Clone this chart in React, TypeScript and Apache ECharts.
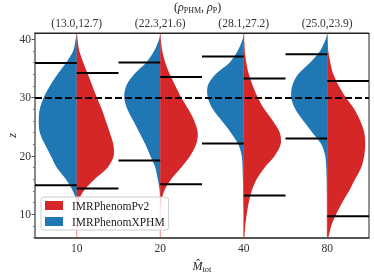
import React, { useEffect, useRef } from 'react';
import * as echarts from 'echarts';

const categories = ['10', '20', '40', '80'];
const snrPairs = ['(13.0,12.7)', '(22.3,21.6)', '(28.1,27.2)', '(25.0,23.9)'];
const zGrid = [41, 40, 38, 36, 34, 32, 30, 28, 26, 24, 22, 20, 18, 16, 14, 12, 10, 8, 6];

// half-widths (fraction of category band) of each violin half at zGrid
const xphm10 = [0, 0.012, 0.042, 0.126, 0.228, 0.32, 0.395, 0.443, 0.455, 0.443, 0.383, 0.311, 0.24, 0.132, 0.048, 0, 0, 0, 0];
const xphm20 = [0, 0.012, 0.072, 0.168, 0.311, 0.407, 0.431, 0.395, 0.323, 0.251, 0.18, 0.12, 0.06, 0.03, 0.006, 0, 0, 0, 0];
const xphm40 = [0, 0.012, 0.072, 0.168, 0.335, 0.431, 0.431, 0.371, 0.263, 0.156, 0.066, 0.024, 0.014, 0.01, 0.006, 0.004, 0, 0, 0];
const xphm80 = [0, 0.018, 0.084, 0.204, 0.347, 0.419, 0.431, 0.383, 0.287, 0.18, 0.072, 0.024, 0.012, 0.006, 0.004, 0, 0, 0, 0];
const pv210 = [0, 0.008, 0.03, 0.078, 0.132, 0.186, 0.24, 0.299, 0.347, 0.395, 0.437, 0.443, 0.371, 0.216, 0.084, 0.012, 0, 0, 0];
const pv220 = [0, 0.006, 0.024, 0.06, 0.114, 0.18, 0.251, 0.335, 0.407, 0.449, 0.431, 0.359, 0.251, 0.132, 0.048, 0.012, 0, 0, 0];
const pv240 = [0, 0.004, 0.012, 0.03, 0.06, 0.108, 0.168, 0.246, 0.347, 0.431, 0.443, 0.371, 0.251, 0.156, 0.096, 0.06, 0.036, 0.018, 0.006];
const pv280 = [0, 0.004, 0.012, 0.036, 0.072, 0.138, 0.222, 0.323, 0.395, 0.443, 0.455, 0.443, 0.407, 0.335, 0.263, 0.18, 0.108, 0.048, 0.012];

const xphmUpper = [35.9, 36.0, 37.0, 37.4];
const xphmLower = [14.95, 19.2, 22.1, 22.95];
const pv2Upper = [34.2, 33.5, 33.25, 32.8];
const pv2Lower = [14.4, 15.1, 13.2, 9.65];

const refZ = 30;
const yMin = 5.9;
const yMax = 41.05;
const yTicks = [10, 20, 30, 40];
const yMinorTicks = [6, 8, 12, 14, 16, 18, 22, 24, 26, 28, 32, 34, 36, 38];

const BLUE = '#1f77b4';
const RED = '#d62728';
const FONT = 'Liberation Serif';

const xphmWidths = [xphm10, xphm20, xphm40, xphm80];
const pv2Widths = [pv210, pv220, pv240, pv280];

function violinRender(widths: number[][], side: number, color: string) {
  return (params: any, api: any) => {
    const i = api.value(0);
    const bw = api.size([1, 0])[0];
    const w = widths[i];
    const edge: number[][] = [];
    const center: number[][] = [];
    for (let k = 0; k < zGrid.length; k++) {
      const p = api.coord([i, zGrid[k]]);
      edge.push([p[0] + side * w[k] * bw, p[1]]);
      center.push([p[0], p[1]]);
    }
    const pts = edge.concat(center.reverse());
    return {
      type: 'polygon',
      shape: { points: pts, smooth: 0.3 },
      style: { fill: color },
    };
  };
}

function quantileRender(params: any, api: any) {
  const i = api.value(0);
  const bw = api.size([1, 0])[0];
  const mk = (z: number, side: number) => {
    const p = api.coord([i, z]);
    return {
      type: 'line',
      shape: { x1: p[0], y1: p[1], x2: p[0] + side * bw / 2, y2: p[1] },
      style: { stroke: '#000', lineWidth: 2 },
    };
  };
  return {
    type: 'group',
    children: [mk(xphmUpper[i], -1), mk(xphmLower[i], -1), mk(pv2Upper[i], 1), mk(pv2Lower[i], 1)],
  };
}

function tailRender(params: any, api: any) {
  const i = api.value(0);
  const a = api.coord([i, yMax]);
  const b = api.coord([i, yMin]);
  return {
    type: 'line',
    shape: { x1: a[0], y1: a[1], x2: b[0], y2: b[1] },
    style: { stroke: 'rgba(214,39,40,0.55)', lineWidth: 1 },
  };
}

export default function App() {
  const ref = useRef<HTMLDivElement>(null);
  useEffect(() => {
    if (!ref.current) return;
    const chart = echarts.init(ref.current, null, { renderer: 'svg' });
    const catData = categories.map((_, i) => [i, 20]);
    chart.setOption({
      animation: false,
      textStyle: { fontFamily: FONT },
      grid: {
        left: 35, right: 5, top: 33, bottom: 38,
        containLabel: false, outerBoundsMode: 'none',
        show: true, borderColor: '#222', borderWidth: 1, backgroundColor: 'transparent',
      },
      legend: {
        data: ['IMRPhenomPv2', 'IMRPhenomXPHM'],
        orient: 'vertical',
        left: 41,
        top: 197,
        icon: 'rect',
        itemWidth: 18,
        itemHeight: 9,
        itemGap: 3,
        padding: [2, 4, 2, 4],
        backgroundColor: 'rgba(255,255,255,0.8)',
        borderColor: '#ccc',
        borderWidth: 1,
        borderRadius: 3,
        textStyle: { fontFamily: FONT, fontSize: 11.5, color: '#222', padding: [0, 0, 0, 4], lineHeight: 13 },
        z: 20,
      },
      xAxis: [
        {
          type: 'category',
          data: categories,
          boundaryGap: true,
          position: 'bottom',
          axisLine: { lineStyle: { color: '#444', width: 1.5 } },
          axisTick: { alignWithLabel: true, length: 3.5, lineStyle: { color: '#444' } },
          axisLabel: { fontFamily: FONT, fontSize: 11.5, color: '#333', margin: 4 },
          name: '{i|M\u0302}{s|tot}',
          nameLocation: 'middle',
          nameGap: 20,
          nameMoveOverlap: false,
          nameTextStyle: {
            rich: {
              i: { fontFamily: FONT, fontStyle: 'italic', fontSize: 12, color: '#222' },
              s: { fontFamily: FONT, fontSize: 8.5, color: '#222', padding: [6, 0, 0, 0] },
            },
          },
        },
        {
          type: 'category',
          data: snrPairs,
          boundaryGap: true,
          position: 'top',
          axisLine: { lineStyle: { color: '#222', width: 1 } },
          axisTick: { show: false },
          axisLabel: { fontFamily: FONT, fontSize: 11.5, color: '#333', margin: 4 },
        },
      ],
      yAxis: [
        {
          type: 'value',
          min: yMin,
          max: yMax,
          axisLine: { show: true, lineStyle: { color: '#888', width: 2 } },
          axisTick: { show: true, length: 3.5, customValues: yTicks, lineStyle: { color: '#555' } },
          axisLabel: { customValues: yTicks, fontFamily: FONT, fontSize: 11.5, color: '#333', margin: 4 },
          splitLine: { show: false },
          name: 'z',
          nameLocation: 'middle',
          nameGap: 17,
          nameMoveOverlap: false,
          nameTextStyle: { fontFamily: FONT, fontStyle: 'italic', fontSize: 12, color: '#222' },
        },
        {
          type: 'value',
          min: yMin,
          max: yMax,
          position: 'left',
          axisLine: { show: false },
          axisTick: { show: true, length: 2, customValues: yMinorTicks, lineStyle: { color: '#777' } },
          axisLabel: { show: false },
          splitLine: { show: false },
        },
      ],
      graphic: [
        {
          type: 'text',
          left: 174,
          top: 1,
          z: 10,
          style: {
            text: '{n|(}{i|ρ}{s|PHM}{n|, }{i|ρ}{s|P}{n|)}',
            rich: {
              n: { fontFamily: FONT, fontSize: 12, fill: '#222' },
              i: { fontFamily: FONT, fontStyle: 'italic', fontSize: 12, fill: '#222' },
              s: { fontFamily: FONT, fontSize: 8, fill: '#222', padding: [6, 0, 0, 0] },
            },
          },
        },
      ],
      series: [
        {
          type: 'custom',
          name: 'tail',
          data: catData,
          encode: { x: 0, y: 1 },
          renderItem: tailRender,
          z: 1,
          silent: true,
        },
        {
          type: 'custom',
          name: 'IMRPhenomXPHM',
          data: catData,
          encode: { x: 0, y: 1 },
          itemStyle: { color: BLUE },
          renderItem: violinRender(xphmWidths, -1, BLUE),
          z: 2,
        },
        {
          type: 'custom',
          name: 'IMRPhenomPv2',
          data: catData,
          encode: { x: 0, y: 1 },
          itemStyle: { color: RED },
          renderItem: violinRender(pv2Widths, 1, RED),
          z: 2,
        },
        {
          type: 'custom',
          name: 'quantiles',
          data: catData,
          encode: { x: 0, y: 1 },
          renderItem: quantileRender,
          z: 4,
        },
        {
          type: 'line',
          name: 'ref',
          data: [],
          z: 5,
          markLine: {
            silent: true,
            symbol: 'none',
            label: { show: false },
            lineStyle: { color: '#000', type: [7, 3], width: 2 },
            data: [{ yAxis: refZ }],
          },
        },
      ],
    });
    return () => chart.dispose();
  }, []);
  return <div ref={ref} style={{ position: 'fixed', left: 0, top: 0, width: 374, height: 276 }} />;
}
